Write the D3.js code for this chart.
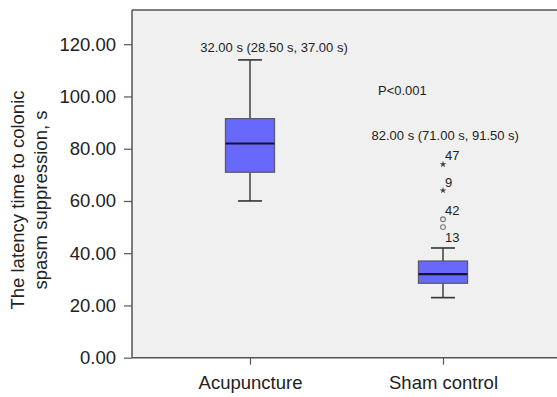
<!DOCTYPE html>
<html>
<head>
<meta charset="utf-8">
<script src="https://cdn.jsdelivr.net/npm/d3@7"></script>
<style>
  html, body { margin: 0; padding: 0; background: #ffffff; }
  svg { display: block; font-family: "Liberation Sans", Arial, Helvetica, sans-serif; }
</style>
</head>
<body>
<svg id="chart" width="557" height="397"></svg>
<script>
// ---- data ----
const categories = ["Acupuncture", "Sham control"];
const medians = [82.0, 32.0];
const q1s = [71.0, 28.5];
const q3s = [91.5, 37.0];
const whiskerLows = [60.0, 23.0];
const whiskerHighs = [114.0, 42.0];
const outlierGroups = ["Sham control", "Sham control", "Sham control", "Sham control"];
const outlierValues = [74.0, 64.0, 53.0, 50.0];
const outlierIds = ["47", "9", "42", "13"];
const outlierKinds = ["extreme", "extreme", "mild", "mild"];
const yTicks = [0, 20, 40, 60, 80, 100, 120];
const summaryLabels = ["32.00 s (28.50 s, 37.00 s)", "82.00 s (71.00 s, 91.50 s)"];
const pLabel = "P<0.001";
const yTitleLines = ["The latency time to colonic", "spasm suppression, s"];

// ---- layout ----
const svg = d3.select("#chart");
const plotLeft = 132, plotTop = 10, plotBottom = 357.7, plotRight = 562;
const y = d3.scaleLinear().domain([0, 133.1]).range([plotBottom, plotTop]);
const x = d3.scalePoint().domain(categories).range([250, 443]).padding(0);
const boxW = 49, capW = 24;
const textColor = "#222";

// plot background
svg.append("rect")
  .attr("x", plotLeft).attr("y", plotTop)
  .attr("width", plotRight - plotLeft).attr("height", plotBottom - plotTop)
  .attr("fill", "#f0f0f0");
// top border
svg.append("line")
  .attr("x1", plotLeft).attr("x2", plotRight)
  .attr("y1", plotTop).attr("y2", plotTop)
  .attr("stroke", "#555").attr("stroke-width", 1.3);

// axes
const yAxis = d3.axisLeft(y).tickValues(yTicks).tickFormat(d3.format(".2f")).tickSize(8).tickPadding(8);
const gy = svg.append("g").attr("transform", `translate(${plotLeft},0)`).call(yAxis);
gy.select(".domain").attr("d", `M0,${plotTop}V${plotBottom}`).attr("stroke", "#555").attr("stroke-width", 1.5);
gy.selectAll(".tick line").attr("stroke", "#555").attr("stroke-width", 1.2);
gy.selectAll(".tick text").attr("fill", textColor).style("font-size", "18.5px")
  .style("font-family", "'Liberation Sans', Arial, sans-serif");

const xAxis = d3.axisBottom(x).tickSize(7).tickPadding(11);
const gx = svg.append("g").attr("transform", `translate(0,${plotBottom})`).call(xAxis);
gx.select(".domain").attr("d", `M${plotLeft},0H${plotRight}`).attr("stroke", "#555").attr("stroke-width", 1.5);
gx.selectAll(".tick line").attr("stroke", "#555").attr("stroke-width", 1.2);
gx.selectAll(".tick text").attr("fill", textColor).style("font-size", "18.5px")
  .style("font-family", "'Liberation Sans', Arial, sans-serif");

// y title
const yt = svg.append("text")
  .attr("transform", "translate(0,200) rotate(-90)")
  .attr("text-anchor", "middle")
  .attr("fill", textColor)
  .style("font-size", "18.5px");
yt.selectAll("tspan").data(yTitleLines).join("tspan")
  .attr("x", 0).attr("y", (d, i) => 23.5 + i * 23.5)
  .text(d => d);

// boxes
const boxData = categories.map((c, i) => ({
  c, med: medians[i], q1: q1s[i], q3: q3s[i], lo: whiskerLows[i], hi: whiskerHighs[i]
}));
const bg = svg.append("g").selectAll("g").data(boxData).join("g");
bg.append("line")
  .attr("x1", d => x(d.c)).attr("x2", d => x(d.c))
  .attr("y1", d => y(d.hi)).attr("y2", d => y(d.q3))
  .attr("stroke", "#333").attr("stroke-width", 1.4);
bg.append("line")
  .attr("x1", d => x(d.c)).attr("x2", d => x(d.c))
  .attr("y1", d => y(d.q1)).attr("y2", d => y(d.lo))
  .attr("stroke", "#333").attr("stroke-width", 1.4);
bg.append("line")
  .attr("x1", d => x(d.c) - capW / 2).attr("x2", d => x(d.c) + capW / 2)
  .attr("y1", d => y(d.hi)).attr("y2", d => y(d.hi))
  .attr("stroke", "#333").attr("stroke-width", 1.6);
bg.append("line")
  .attr("x1", d => x(d.c) - capW / 2).attr("x2", d => x(d.c) + capW / 2)
  .attr("y1", d => y(d.lo)).attr("y2", d => y(d.lo))
  .attr("stroke", "#333").attr("stroke-width", 1.6);
bg.append("rect")
  .attr("x", d => x(d.c) - boxW / 2).attr("width", boxW)
  .attr("y", d => y(d.q3)).attr("height", d => y(d.q1) - y(d.q3))
  .attr("fill", "#6868fc").attr("stroke", "#5a5a6a").attr("stroke-width", 1.3);
bg.append("line")
  .attr("x1", d => x(d.c) - boxW / 2).attr("x2", d => x(d.c) + boxW / 2)
  .attr("y1", d => y(d.med)).attr("y2", d => y(d.med))
  .attr("stroke", "#141432").attr("stroke-width", 2.2);

// outliers
const outData = outlierValues.map((v, i) => ({
  c: outlierGroups[i], v, id: outlierIds[i], kind: outlierKinds[i]
}));
const og = svg.append("g");
og.selectAll("circle").data(outData.filter(d => d.kind === "mild")).join("circle")
  .attr("cx", d => x(d.c)).attr("cy", d => y(d.v)).attr("r", 2.4)
  .attr("fill", "none").attr("stroke", "#777").attr("stroke-width", 1.1);
og.selectAll("path").data(outData.filter(d => d.kind === "extreme")).join("path")
  .attr("d", d3.symbol(d3.symbolStar, 14))
  .attr("transform", d => `translate(${x(d.c)},${y(d.v)})`)
  .attr("fill", "#444");
// labels: above the point, unless too close to the previous (higher) label, then below
let prevY = -Infinity;
outData.forEach(d => {
  const py = y(d.v);
  let ly = py - 4;
  if (ly - prevY < 12) ly = py + 15;
  prevY = ly;
  og.append("text")
    .attr("x", x(d.c) + 2).attr("y", ly)
    .attr("fill", textColor).style("font-size", "13px")
    .text(d.id);
});

// annotations
svg.append("text").attr("x", 274).attr("y", 51.5).attr("text-anchor", "middle")
  .attr("fill", textColor).style("font-size", "13px").text(summaryLabels[0]);
svg.append("text").attr("x", 378).attr("y", 95).attr("text-anchor", "start")
  .attr("fill", textColor).style("font-size", "13px").text(pLabel);
svg.append("text").attr("x", 371.5).attr("y", 140).attr("text-anchor", "start")
  .attr("fill", textColor).style("font-size", "13px").text(summaryLabels[1]);
</script>
</body>
</html>
